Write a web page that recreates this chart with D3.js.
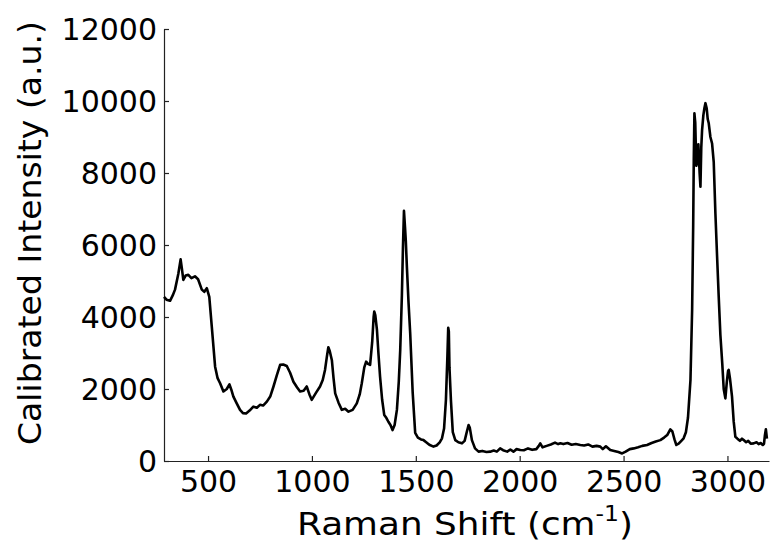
<!DOCTYPE html>
<html>
<head>
<meta charset="utf-8">
<script src="https://cdn.jsdelivr.net/npm/d3@7"></script>
<style>
  body { margin: 0; background: #fff; }
  svg { display: block; font-family: "DejaVu Sans", Verdana, sans-serif; }
</style>
</head>
<body>
<script>
// Raman spectrum: shift (cm^-1) and calibrated intensity (a.u.)
const shift = [
  288, 300, 317, 330, 341, 357, 368, 374, 381, 392, 405, 420, 437, 452, 470, 482, 494, 506,
  518, 534, 546, 558, 574, 590, 603, 612, 622, 638, 654, 668, 683, 700, 718, 735, 750, 765,
  783, 800, 815, 832, 847, 862, 879, 895, 911, 928, 943, 960, 975, 988, 999, 1020, 1039, 1052,
  1063, 1072, 1079, 1086, 1096, 1104, 1112, 1128, 1144, 1160, 1176, 1196, 1216, 1230, 1240, 1252,
  1261, 1270, 1280, 1290, 1297, 1300, 1305, 1313, 1320, 1328, 1338, 1348, 1358, 1368, 1378, 1388,
  1398, 1409, 1418, 1425, 1433, 1438, 1443, 1448, 1452, 1457, 1465, 1473, 1485, 1497, 1510, 1525,
  1537, 1550, 1565, 1585, 1600, 1615, 1626, 1636, 1645, 1652, 1656, 1659, 1662, 1669, 1678, 1690,
  1705, 1722, 1735, 1745, 1754, 1760, 1770, 1785, 1802, 1820, 1840, 1858, 1875, 1890, 1906, 1920,
  1940, 1955, 1970, 1985, 2003, 2020, 2040, 2060, 2080, 2092, 2099, 2110, 2130, 2150, 2170, 2185,
  2196, 2210, 2230, 2250, 2270, 2292, 2310, 2330, 2350, 2370, 2388, 2400, 2415, 2436, 2455, 2475,
  2493, 2510, 2530, 2549, 2570, 2590, 2613, 2635, 2655, 2677, 2695, 2710, 2725, 2735, 2745, 2754,
  2765, 2778, 2789, 2800, 2810, 2822, 2830, 2835, 2838, 2841, 2845, 2850, 2854, 2860, 2866, 2870,
  2874, 2878, 2884, 2889, 2894, 2900, 2905, 2910, 2918, 2926, 2934, 2942, 2950, 2958, 2966, 2975,
  2982, 2990, 2997, 3003, 3006, 3012, 3022, 3030, 3038, 3048, 3060, 3070, 3078, 3090, 3100, 3112,
  3126, 3140, 3150, 3160, 3170, 3176, 3180, 3185, 3190
];
const intensity = [
  4560, 4480, 4450, 4600, 4760, 5200, 5600, 5350, 5030, 5150, 5170, 5080, 5130, 5050, 4760, 4700, 4800, 4560,
  3730, 2620, 2300, 2160, 1930, 2000, 2130, 1980, 1790, 1600, 1420, 1330, 1320, 1400, 1510, 1480, 1560, 1540,
  1650, 1800, 2070, 2400, 2670, 2680, 2640, 2450, 2200, 2050, 1930, 1950, 2070, 1850, 1700, 1900, 2070, 2250,
  2530, 2900, 3160, 3050, 2800, 2300, 1880, 1620, 1420, 1450, 1370, 1420, 1600, 1850, 2160, 2600,
  2760, 2700, 2670, 3300, 4000, 4150, 4050, 3640, 3000, 2340, 1700, 1280, 1200, 1090, 1000, 860,
  1000, 1420, 2200, 3080, 4600, 5900, 6950, 6500, 6100, 5400, 4400, 3550, 1900, 780, 650, 600,
  580, 520, 450, 400, 430, 520, 630, 900, 1700, 2900, 3700, 3600, 2600, 1690, 800, 580,
  520, 490, 560, 800, 1000, 920, 580, 350, 260, 280, 250, 260, 290, 260, 350, 300,
  260, 320, 260, 330, 305, 300, 350, 310, 330, 420, 490, 380, 420, 460, 510, 470,
  490, 470, 500, 450, 470, 445, 430, 460, 400, 420, 400, 330, 410, 305, 280, 250,
  210, 260, 330, 350, 380, 420, 445, 500, 540, 580, 650, 720, 880, 820, 600, 445,
  480, 560, 630, 800, 1200, 2250, 4200, 6500, 8400, 9660, 9400, 8200, 8270, 8800, 8000, 7620,
  8700, 9200, 9600, 9800, 9940, 9800, 9500, 9380, 9000, 8820, 8300, 6880, 5700, 4560, 3500, 2710,
  2000, 1740, 2200, 2500, 2530, 2300, 1790, 1100, 675, 620, 560, 620, 583, 520, 560, 480,
  490, 520, 470, 500, 445, 480, 700, 880, 620
];
const yTicks = [0, 2000, 4000, 6000, 8000, 10000, 12000];
const xTicks = [500, 1000, 1500, 2000, 2500, 3000];
const xDomain = [288, 3200];
const yDomain = [0, 12000];

const width = 773, height = 555;
const margin = {top: 29, right: 4, bottom: 94, left: 164};

const svg = d3.select("body").append("svg")
    .attr("width", width)
    .attr("height", height);

const x = d3.scaleLinear().domain(xDomain).range([margin.left, width - margin.right]);
const y = d3.scaleLinear().domain(yDomain).range([height - margin.bottom, margin.top]);

const axisColor = "#222";
const fmt = d3.format("d");

// x axis, ticks pointing into the plot
const gx = svg.append("g")
    .attr("transform", `translate(0,${height - margin.bottom})`)
    .call(d3.axisBottom(x).tickValues(xTicks).tickFormat(fmt).tickSizeInner(-5).tickSizeOuter(0).tickPadding(10));

// y axis, ticks pointing into the plot
const gy = svg.append("g")
    .attr("transform", `translate(${margin.left},0)`)
    .call(d3.axisLeft(y).tickValues(yTicks).tickFormat(fmt).tickSizeInner(-5).tickSizeOuter(0).tickPadding(7));

for (const g of [gx, gy]) {
  g.select(".domain").attr("stroke", axisColor).attr("stroke-width", 1.2);
  g.selectAll(".tick line").attr("stroke", axisColor).attr("stroke-width", 1.2);
  g.selectAll(".tick text")
      .attr("fill", "#000")
      .style("font-size", "30px")
      .style("font-family", "'DejaVu Sans', Verdana, sans-serif");
}
gy.selectAll(".tick text").attr("dy", "0.36em");

const line = d3.line()
    .x((d, i) => x(shift[i]))
    .y(d => y(d));

svg.append("path")
    .datum(intensity)
    .attr("fill", "none")
    .attr("stroke", "#000")
    .attr("stroke-width", 2.6)
    .attr("stroke-linejoin", "round")
    .attr("d", line);

// axis titles (the source font is a bit wider than DejaVu, so stretch a little)
const xLabel = svg.append("g")
    .attr("transform", "translate(465,535) scale(1.12,1)")
  .append("text")
    .attr("text-anchor", "middle")
    .style("font-size", "32px")
    .attr("fill", "#000");
xLabel.append("tspan").text("Raman Shift (cm");
xLabel.append("tspan").attr("dy", -14).style("font-size", "21px").text("-1");
xLabel.append("tspan").attr("dy", 14).text(")");

svg.append("text")
    .attr("transform", `translate(41,${233}) rotate(-90)`)
    .attr("text-anchor", "middle")
    .attr("textLength", 424)
    .attr("lengthAdjust", "spacingAndGlyphs")
    .style("font-size", "32px")
    .attr("fill", "#000")
    .text("Calibrated Intensity (a.u.)");
</script>
</body>
</html>
